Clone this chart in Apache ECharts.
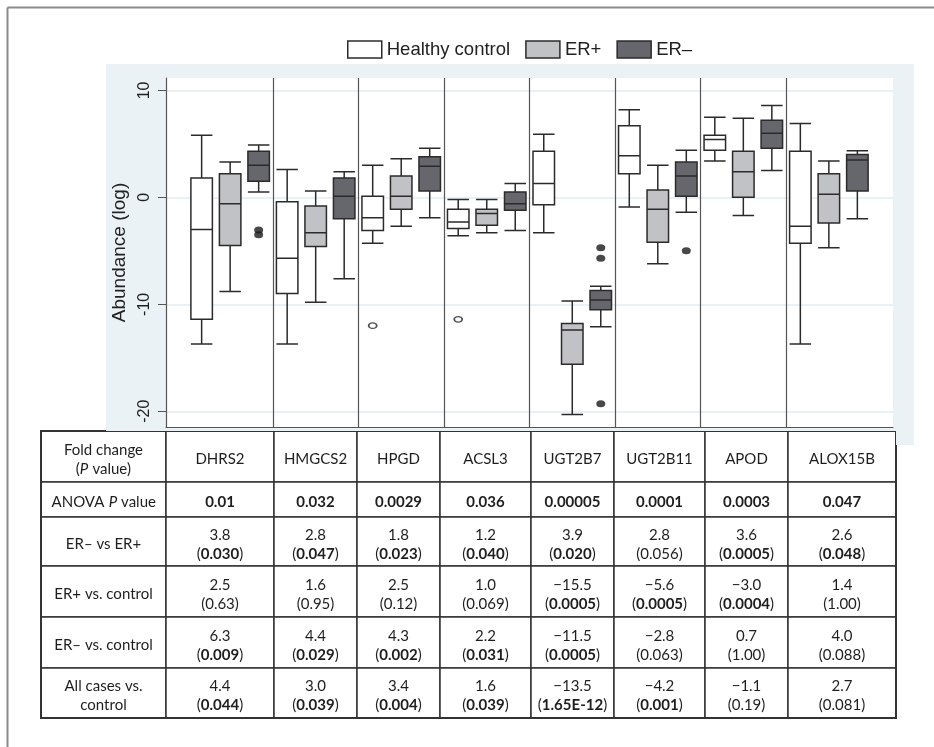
<!DOCTYPE html>
<html>
<head>
    <meta charset="UTF-8">
    <title>gene abundance boxplot</title>
    <script src="https://cdn.jsdelivr.net/npm/echarts@6.0.0/dist/echarts.min.js"></script>
    <style>
        body, html {
            margin: 0;
            padding: 0;
            background: #fff;
        }

        #main {
            width: 934px;
            height: 747px;
        }
    </style>
</head>
<body>
<div id="main"></div>
<script>
    // genes and groups
    var genes = ['DHRS2', 'HMGCS2', 'HPGD', 'ACSL3', 'UGT2B7', 'UGT2B11', 'APOD', 'ALOX15B'];
    var groups = ['Healthy control', 'ER+', 'ER\u2013'];
    var groupColors = ['#ffffff', '#c1c2c5', '#66676c'];

    // [min, Q1, median, Q3, max] per gene
    var healthyBox = [
        [-13.7, -11.4, -3.0, 1.8, 5.8],
        [-13.7, -9.0, -5.7, -0.4, 2.6],
        [-4.3, -3.1, -1.9, 0.1, 3.0],
        [-3.6, -2.9, -2.3, -1.1, -0.2],
        [-3.3, -0.7, 1.3, 4.3, 5.9],
        [-0.9, 2.2, 3.9, 6.7, 8.2],
        [3.4, 4.4, 5.4, 5.8, 7.5],
        [-13.7, -4.3, -2.7, 4.3, 6.9]
    ];
    var erPosBox = [
        [-8.8, -4.5, -0.6, 2.2, 3.3],
        [-9.8, -4.6, -3.3, -0.8, 0.6],
        [-2.7, -1.1, 0.1, 2.0, 3.6],
        [-3.3, -2.6, -1.5, -1.1, -0.2],
        [-20.3, -15.6, -12.4, -11.8, -9.7],
        [-6.2, -4.2, -1.1, 0.7, 3.0],
        [-1.7, 0.0, 2.4, 4.3, 7.4],
        [-4.7, -2.4, 0.3, 2.2, 3.4]
    ];
    var erNegBox = [
        [0.5, 1.5, 3.0, 4.3, 4.9],
        [-7.6, -2.0, 0.1, 1.8, 2.4],
        [-1.9, 0.6, 2.9, 3.8, 4.6],
        [-3.1, -1.2, -0.6, 0.5, 1.3],
        [-12.1, -10.5, -9.6, -8.7, -8.3],
        [-1.4, 0.1, 2.0, 3.3, 4.4],
        [2.5, 4.6, 6.0, 7.2, 8.6],
        [-2.0, 0.6, 3.5, 4.0, 4.35]
    ];
    // outliers: [gene index, value]
    var healthyOutliers = [[2, -12.0], [3, -11.4]];
    var erNegOutliers = [[0, -3.05], [0, -3.5], [4, -4.7], [4, -5.7], [4, -19.3], [5, -5.0]];

    var yTicks = [-20, -10, 0, 10];

    // table
    var rowLabels = ['Fold change\n({i|P} value)', 'ANOVA {i|P} value', 'ER\u2013 vs ER+',
        'ER+ vs. control', 'ER\u2013 vs. control', 'All cases vs.\ncontrol'];
    var anovaP = ['0.01', '0.032', '0.0029', '0.036', '0.00005', '0.0001', '0.0003', '0.047'];
    var negVsPosFold = ['3.8', '2.8', '1.8', '1.2', '3.9', '2.8', '3.6', '2.6'];
    var negVsPosP = ['0.030', '0.047', '0.023', '0.040', '0.020', '0.056', '0.0005', '0.048'];
    var posVsCtrlFold = ['2.5', '1.6', '2.5', '1.0', '\u221215.5', '\u22125.6', '\u22123.0', '1.4'];
    var posVsCtrlP = ['0.63', '0.95', '0.12', '0.069', '0.0005', '0.0005', '0.0004', '1.00'];
    var negVsCtrlFold = ['6.3', '4.4', '4.3', '2.2', '\u221211.5', '\u22122.8', '0.7', '4.0'];
    var negVsCtrlP = ['0.009', '0.029', '0.002', '0.031', '0.0005', '0.063', '1.00', '0.088'];
    var allVsCtrlFold = ['4.4', '3.0', '3.4', '1.6', '\u221213.5', '\u22124.2', '\u22121.1', '2.7'];
    var allVsCtrlP = ['0.044', '0.039', '0.004', '0.039', '1.65E-12', '0.001', '0.19', '0.081'];

    // layout of the table
    var colWidths = [125, 108, 83, 83, 91, 83, 91, 83, 108];
    var rowHeights = [51, 35, 49, 51, 51, 50];
    var lineH = 19;

    var sansFont = '"Liberation Sans", Arial, sans-serif';
    var tableFont = 'Lato, "Open Sans", sans-serif';

    function boxData(list, k) {
        return list.map(function (b, g) {
            return [g * 3 + k].concat(b);
        });
    }

    function outlierData(list, k) {
        return list.map(function (o) {
            return [o[0] * 3 + k, o[1]];
        });
    }

    var dividers = genes.slice(1).map(function (g, i) {
        return {xAxis: (i + 1) * 3 - 0.5};
    });

    function pCell(fold, p) {
        var bold = parseFloat(p) < 0.05;
        return fold + '\n(' + (bold ? '{b|' + p + '}' : p) + ')';
    }

    // matrix text sits at the top of its cell, pad it down to the middle
    function cell(c, r, txt) {
        var n = txt.split('\n').length;
        return {
            coord: [c, r], value: txt,
            label: {padding: [(rowHeights[r] - n * lineH) / 2 + 3, 0, 0, 0]}
        };
    }

    var cells = [];
    cells.push(cell(0, 0, rowLabels[0]));
    genes.forEach(function (g, i) {
        cells.push(cell(i + 1, 0, g));
    });
    var rows = [
        anovaP.map(function (p) { return '{b|' + p + '}'; }),
        negVsPosFold.map(function (f, i) { return pCell(f, negVsPosP[i]); }),
        posVsCtrlFold.map(function (f, i) { return pCell(f, posVsCtrlP[i]); }),
        negVsCtrlFold.map(function (f, i) { return pCell(f, negVsCtrlP[i]); }),
        allVsCtrlFold.map(function (f, i) { return pCell(f, allVsCtrlP[i]); })
    ];
    rows.forEach(function (row, r) {
        cells.push(cell(0, r + 1, rowLabels[r + 1]));
        row.forEach(function (txt, c) {
            cells.push(cell(c + 1, r + 1, txt));
        });
    });

    var boxStyle = function (fill) {
        return {color: fill, borderColor: '#2b2b2b', borderWidth: 1.5};
    };

    var xAxisBase = {
        type: 'value', min: -1.25, max: 24.25, gridIndex: 0,
        axisLabel: {show: false}, axisTick: {show: false}, splitLine: {show: false}
    };

    var chart = echarts.init(document.getElementById('main'), null, {renderer: 'canvas'});
    chart.setOption({
        animation: false,
        graphic: [
            {type: 'rect', z: -10, shape: {x: 106, y: 64, width: 808, height: 367}, style: {fill: '#eaf2f5'}},
            {type: 'rect', z: -10, shape: {x: 896, y: 431, width: 18, height: 14}, style: {fill: '#eaf2f5'}},
            {type: 'line', z: 10, shape: {x1: 7.5, y1: 7.5, x2: 934, y2: 7.5}, style: {stroke: '#8a8a8a', lineWidth: 2}},
            {type: 'line', z: 10, shape: {x1: 7.5, y1: 7.5, x2: 7.5, y2: 747}, style: {stroke: '#8a8a8a', lineWidth: 2}}
        ],
        legend: {
            data: groups.map(function (g, i) {
                return {name: g, itemStyle: {color: groupColors[i], borderColor: '#2b2b2b', borderWidth: 1.5}};
            }),
            left: 347,
            top: 40,
            padding: 0,
            icon: 'rect',
            itemWidth: 34,
            itemHeight: 17,
            itemGap: 15,
            textStyle: {fontFamily: sansFont, fontSize: 18.5, color: '#222'}
        },
        grid: {
            left: 166, right: 41, top: 78, bottom: 320,
            show: true, backgroundColor: '#fff', borderWidth: 0
        },
        xAxis: [
            Object.assign({}, xAxisBase, {
                axisLine: {show: true, onZero: false, lineStyle: {color: '#555', width: 1.2}}
            }),
            Object.assign({}, xAxisBase, {show: false}),
            Object.assign({}, xAxisBase, {show: false})
        ],
        yAxis: {
            type: 'value',
            min: -21.47,
            max: 11.16,
            splitNumber: 3,
            name: 'Abundance (log)',
            nameLocation: 'middle',
            nameGap: 29,
            nameTextStyle: {fontFamily: sansFont, fontSize: 19, color: '#222'},
            axisLine: {show: true, onZero: false, lineStyle: {color: '#555', width: 1.2}},
            axisTick: {show: true, length: 8, customValues: yTicks, lineStyle: {color: '#555'}},
            axisLabel: {
                customValues: yTicks, rotate: 90, margin: 13,
                fontFamily: sansFont, fontSize: 16, color: '#222'
            },
            splitLine: {show: true, lineStyle: {color: '#e3edf2', width: 1.5}}
        },
        series: [
            {
                name: groups[0], type: 'boxplot', xAxisIndex: 0,
                boxWidth: [21.5, 21.5],
                itemStyle: boxStyle(groupColors[0]),
                data: boxData(healthyBox, 0),
                markLine: {
                    silent: true, symbol: ['none', 'none'], label: {show: false},
                    lineStyle: {color: '#555', width: 1.2, type: 'solid'},
                    data: dividers
                }
            },
            {
                name: groups[1], type: 'boxplot', xAxisIndex: 1,
                boxWidth: [21.5, 21.5],
                itemStyle: boxStyle(groupColors[1]),
                data: boxData(erPosBox, 1)
            },
            {
                name: groups[2], type: 'boxplot', xAxisIndex: 2,
                boxWidth: [21.5, 21.5],
                itemStyle: boxStyle(groupColors[2]),
                data: boxData(erNegBox, 2)
            },
            {
                type: 'scatter', xAxisIndex: 0, symbol: 'circle', symbolSize: [8, 5.5], z: 5,
                itemStyle: {color: '#fff', borderColor: '#222', borderWidth: 1.5},
                data: outlierData(healthyOutliers, 0)
            },
            {
                type: 'scatter', xAxisIndex: 0, symbol: 'circle', symbolSize: [9, 7], z: 5,
                itemStyle: {color: '#1a1a1a'},
                data: outlierData(erNegOutliers, 2)
            }
        ],
        matrix: {
            left: 41, top: 431, width: 855, height: 287,
            x: {
                show: false,
                data: colWidths.map(function (w, i) { return {value: 'c' + i, size: w}; })
            },
            y: {
                show: false,
                data: rowHeights.map(function (h, i) { return {value: 'r' + i, size: h}; })
            },
            body: {
                data: cells,
                itemStyle: {color: '#fff', borderColor: '#333', borderWidth: 1.5},
                label: {
                    verticalAlign: 'middle',
                    fontFamily: tableFont, fontSize: 15, color: '#1e1e1e', lineHeight: lineH,
                    rich: {
                        b: {fontFamily: tableFont, fontSize: 15, fontWeight: 'bold', color: '#1e1e1e', lineHeight: lineH},
                        i: {fontFamily: tableFont, fontSize: 15, fontStyle: 'italic', color: '#1e1e1e', lineHeight: lineH}
                    }
                }
            },
            backgroundStyle: {color: '#fff', borderColor: '#333', borderWidth: 2}
        }
    });
</script>
</body>
</html>
